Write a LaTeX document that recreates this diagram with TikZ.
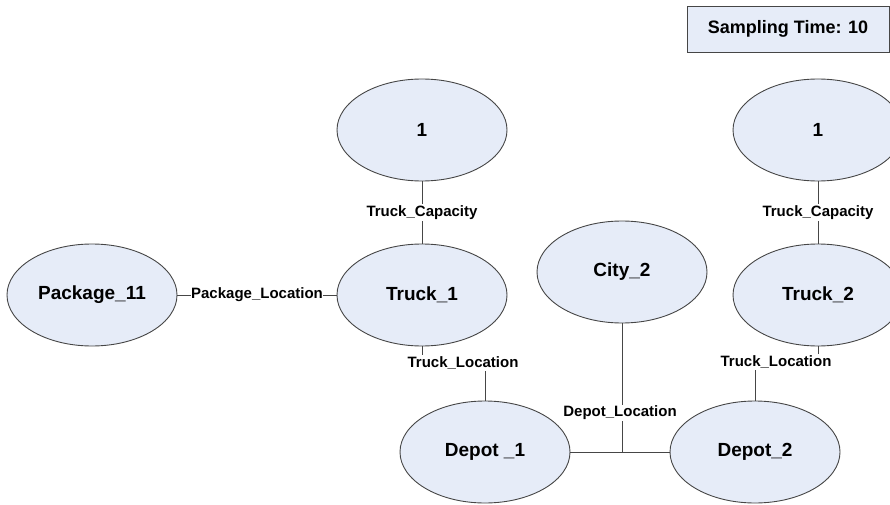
\documentclass[tikz,border=0pt]{standalone}
\usepackage{fontspec}
\setmainfont{Liberation Sans}
\usetikzlibrary{shapes.geometric}
\definecolor{nodefill}{RGB}{230,236,248}
\definecolor{edgegray}{RGB}{70,70,70}
\tikzset{
  ent/.style={ellipse, draw=edgegray, line width=0.9pt, fill=nodefill, minimum width=170pt, minimum height=102pt, inner sep=0pt, font=\fontsize{19}{20}\selectfont\bfseries},
  lbl/.style={fill=white, inner sep=1.5pt, font=\fontsize{15}{16}\selectfont\bfseries},
  conn/.style={draw=edgegray, line width=0.9pt},
}
\begin{document}
\begin{tikzpicture}[x=1pt,y=1pt]
\useasboundingbox (0,0) rectangle (890,504);
\clip (0,0) rectangle (890,504);
% sampling box
\node[draw=edgegray, line width=0.9pt, fill=nodefill, minimum width=202pt, minimum height=46pt, inner sep=0pt, font=\fontsize{18}{19}\selectfont\bfseries] (st) at (788,475) {Sampling Time: 10};
% entities
\node[ent] (c1) at (422,374) {1};
\node[ent] (t1) at (422,209) {Truck\_1};
\node[ent] (p11) at (92,209) {Package\_11};
\node[ent] (city) at (622,232) {City\_2};
\node[ent] (d1) at (485,52) {Depot \_1};
\node[ent] (d2) at (755,52) {Depot\_2};
\node[ent] (c2) at (818,374) {1};
\node[ent] (t2) at (818,209) {Truck\_2};
% connectors
\draw[conn] (c1) -- (t1) node[lbl, midway] (lc1) {Truck\_Capacity};
\draw[conn] (c2) -- (t2) node[lbl, midway] (lc2) {Truck\_Capacity};
\draw[conn] (p11) -- (t1) node[lbl, pos=0.5, inner sep=0.5pt] (lp) {Package\_Location};
\coordinate (tl1c) at (463,141);
\draw[conn] (t1.south) |- (tl1c) -| (d1.north);
\node[lbl] (tl1) at (tl1c) {Truck\_Location};
\coordinate (tl2c) at (776,142);
\draw[conn] (t2.south) |- (tl2c) -| (d2.north);
\node[lbl] (tl2) at (tl2c) {Truck\_Location};
\coordinate (junc) at (622,52);
\draw[conn] (d1.east) -- (d2.west);
\draw[conn] (city.south) -- (junc);
\node[lbl] (dl) at (620,91) {Depot\_Location};
\end{tikzpicture}
\end{document}
